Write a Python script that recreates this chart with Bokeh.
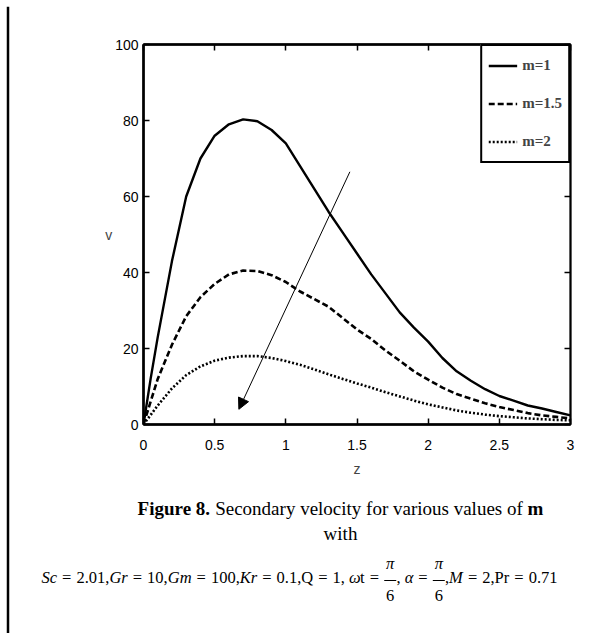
from bokeh.plotting import figure
from bokeh.models import (Range1d, FixedTicker, LinearAxis, Label, Arrow,
                          NormalHead)
from bokeh.layouts import column, row
from bokeh.embed import file_html
from bokeh.resources import INLINE

# ---------------- data ----------------
z = [0, 0.05, 0.1, 0.2, 0.3, 0.4, 0.5, 0.6, 0.7, 0.8, 0.9, 1.0, 1.1, 1.2,
     1.3, 1.4, 1.5, 1.6, 1.7, 1.8, 1.9, 2.0, 2.1, 2.2, 2.3, 2.4, 2.5, 2.6,
     2.7, 2.8, 2.9, 3.0]
v_m1 = [0, 12, 23, 43, 60, 70, 76, 79, 80.3, 79.8, 77.5, 74, 68, 62, 56,
        50.5, 45, 39.5, 34.5, 29.5, 25.5, 21.8, 17.5, 14, 11.5, 9.3, 7.5,
        6.3, 5, 4.2, 3.3, 2.4]
v_m15 = [0, 6, 12, 21, 28.5, 33.5, 37, 39.5, 40.5, 40.4, 39.3, 37.5, 35,
         33, 31, 28, 25, 22.5, 19.5, 16.8, 14, 11.8, 9.7, 8, 6.8, 5.6, 4.6,
         3.8, 3, 2.4, 2, 1.6]
v_m2 = [0, 2.5, 5, 9.5, 13, 15.3, 16.8, 17.6, 18, 18, 17.5, 16.7, 15.7,
        14.5, 13.2, 12, 10.8, 9.7, 8.5, 7.4, 6.3, 5.3, 4.5, 3.7, 3.1, 2.6,
        2.2, 1.9, 1.6, 1.4, 1.2, 1.1]
series_labels = ["m=1", "m=1.5", "m=2"]

x_ticks = [0, 0.5, 1, 1.5, 2, 2.5, 3]
x_tick_labels = ["0", "0.5", "1", "1.5", "2", "2.5", "3"]
y_ticks = [0, 20, 40, 60, 80, 100]
y_tick_labels = ["0", "20", "40", "60", "80", "100"]

# arrow annotation (data units): start -> end
arrow_start = (1.45, 66.5)
arrow_end = (0.67, 4.0)

caption_bold_1 = "Figure 8."
caption_regular = " Secondary velocity for various values of "
caption_bold_2 = "m"
caption_line2 = "with"

# ---------------- layout constants (canvas pixels) ----------------
W, H = 592, 633
TOP_H = 6          # strip holding the dashed rule
LEFT_W = 10        # strip holding the vertical rule
CHART_BOTTOM = 480
FL, FR, FT, FB = 143, 570, 44, 424  # chart frame on the canvas

TICK_FONT = "Liberation Sans"
SERIF = "Liberation Serif"


def no_align(f):
    try:
        f.frame_align = False
    except Exception:
        pass


def blank_fig(w, h, xr, yr):
    f = figure(width=w, height=h, output_backend="svg", toolbar_location=None,
               x_range=Range1d(*xr), y_range=Range1d(*yr),
               x_axis_location=None, y_axis_location=None, min_border=0)
    f.grid.visible = False
    f.outline_line_color = None
    f.background_fill_color = "white"
    f.border_fill_color = "white"
    no_align(f)
    return f


# dashed rule at top
top_fig = blank_fig(W, TOP_H, (0, W), (TOP_H, 0))
top_fig.segment(x0=[0], y0=[3.5], x1=[W], y1=[3.5], line_color="#566273",
                line_width=2, line_dash="3 2")

# vertical rule on the left
left_fig = blank_fig(LEFT_W, H - TOP_H, (0, LEFT_W), (H, TOP_H))
left_fig.segment(x0=[7.5], y0=[TOP_H], x1=[7.5], y1=[H], line_color="black",
                 line_width=2.5)

# ---------------- chart ----------------
p = figure(width=W - LEFT_W, height=CHART_BOTTOM - TOP_H,
           output_backend="svg", toolbar_location=None,
           x_range=Range1d(0, 3), y_range=Range1d(0, 100),
           min_border_left=FL - LEFT_W, min_border_right=W - FR,
           min_border_top=FT - TOP_H, min_border_bottom=CHART_BOTTOM - FB)
no_align(p)
p.background_fill_color = "white"
p.border_fill_color = "white"
p.grid.visible = False
p.outline_line_color = "black"
p.outline_line_width = 2

for ax in (p.xaxis[0], p.yaxis[0]):
    ax.axis_line_width = 2.5
    ax.axis_line_color = "black"
    ax.major_tick_in = 6
    ax.major_tick_out = 0
    ax.major_tick_line_width = 1.5
    ax.minor_tick_line_color = None
    ax.major_label_text_font = TICK_FONT
    ax.major_label_text_font_size = "14px"
    ax.major_label_text_color = "black"
    ax.axis_label_text_font = TICK_FONT
    ax.axis_label_text_font_size = "14px"
    ax.axis_label_text_font_style = "normal"

p.xaxis[0].ticker = FixedTicker(ticks=x_ticks)
p.xaxis[0].major_label_overrides = dict(zip(x_ticks, x_tick_labels))
p.xaxis[0].major_label_standoff = 15
p.xaxis[0].axis_label = "z"
p.xaxis[0].axis_label_standoff = 8

p.yaxis[0].ticker = FixedTicker(ticks=y_ticks)
p.yaxis[0].major_label_overrides = dict(zip(y_ticks, y_tick_labels))
p.yaxis[0].major_label_standoff = 5
p.yaxis[0].axis_label = "v"
p.yaxis[0].axis_label_orientation = "horizontal"
p.yaxis[0].axis_label_standoff = 0

# mirrored tick axes (top, right) without labels
top_ax = LinearAxis(ticker=FixedTicker(ticks=x_ticks), major_tick_in=6,
                    major_tick_out=0, axis_line_width=2.5,
                    minor_tick_line_color=None, major_tick_line_width=1.5,
                    major_label_standoff=0, major_label_text_color=None,
                    major_label_overrides={t: "" for t in x_ticks})
right_ax = LinearAxis(ticker=FixedTicker(ticks=y_ticks), major_tick_in=6,
                      major_tick_out=0, axis_line_width=1.5,
                      minor_tick_line_color=None, major_tick_line_width=1.5,
                      major_label_standoff=0, major_label_text_color=None,
                      major_label_overrides={t: "" for t in y_ticks})
p.add_layout(top_ax, "above")
p.add_layout(right_ax, "right")

# curves
p.line(z, v_m1, line_color="black", line_width=2.4,
       legend_label=series_labels[0])
p.line(z, v_m15, line_color="black", line_width=2.6, line_dash="6 3",
       legend_label=series_labels[1])
p.line(z, v_m2, line_color="black", line_width=2.6, line_dash="2 2",
       legend_label=series_labels[2])

lg = p.legend[0]
lg.location = "top_right"
lg.margin = 0
lg.padding = 6
lg.spacing = 11
lg.label_height = 27
lg.glyph_height = 27
lg.glyph_width = 29
lg.label_standoff = 5
lg.border_line_color = "black"
lg.border_line_alpha = 1
lg.border_line_width = 2.5
lg.background_fill_color = "white"
lg.background_fill_alpha = 1
lg.label_text_font = SERIF
lg.label_text_font_style = "bold"
lg.label_text_font_size = "15px"

# arrow
p.add_layout(Arrow(x_start=arrow_start[0], y_start=arrow_start[1],
                   x_end=arrow_end[0], y_end=arrow_end[1],
                   line_width=1, line_color="black",
                   end=NormalHead(size=11, fill_color="black",
                                  line_color="black", line_width=1)))

# ---------------- caption (canvas coordinates) ----------------
cap = blank_fig(W - LEFT_W, H - CHART_BOTTOM, (LEFT_W, W), (H, CHART_BOTTOM))

# Liberation Serif is metric-compatible with Times; widths in 1/1000 em
REG = {" ": 250, ",": 250, ".": 250, "=": 564, "0": 500, "1": 500,
       "2": 500, "6": 500, "7": 500, "8": 500, "S": 556, "Q": 722,
       "P": 556, "a": 444, "c": 444, "d": 500, "e": 444, "f": 333,
       "g": 500, "i": 278, "l": 278, "n": 500, "o": 500, "r": 333,
       "s": 389, "t": 278, "u": 500, "v": 500, "y": 500, "m": 778,
       "w": 722, "h": 500}
ITA = {"S": 500, "c": 444, "G": 722, "r": 389, "m": 722, "K": 667,
       "M": 833, "ω": 667, "α": 520}
BOLD = {"F": 611, "i": 278, "g": 500, "u": 556, "r": 444, "e": 444,
        " ": 250, "8": 500, ".": 250, "m": 833}


def width(txt, style, size):
    table = {"normal": REG, "italic": ITA, "bold": BOLD}[style]
    return sum(table.get(ch, REG.get(ch, 500)) for ch in txt) * size / 1000


def put(txt, cx, cy, size, style="normal", align="left"):
    # SVG collapses leading spaces: shift by their width instead
    lead = len(txt) - len(txt.lstrip(" "))
    cx = cx + width(" " * lead, style, size)
    cap.add_layout(Label(x=cx, y=cy, text=txt.strip(" "), text_font=SERIF,
                         text_font_size=f"{size}px", text_font_style=style,
                         text_color="black", text_align=align,
                         text_baseline="middle"))


# line 1
cap_size = 19
pieces = [(caption_bold_1, "bold"), (caption_regular, "normal"),
          (caption_bold_2, "bold")]
total = sum(width(t, s, cap_size) for t, s in pieces)
cx = 340 - total / 2
for t, s in pieces:
    put(t, cx, 508, cap_size, s)
    cx += width(t, s, cap_size)
put(caption_line2, 340, 533, cap_size, "normal", "center")

# formula line
fs = 16.5
FRAC = "FRAC"
tokens = [("Sc", "italic"), (" = ", "normal"), ("2.01", "normal"),
          (",", "normal"), ("Gr", "italic"), (" = ", "normal"),
          ("10", "normal"), (",", "normal"), ("Gm", "italic"),
          (" = ", "normal"), ("100", "normal"), (",", "normal"),
          ("Kr", "italic"), (" = ", "normal"), ("0.1", "normal"),
          (",", "normal"), ("Q", "normal"), (" = ", "normal"),
          ("1", "normal"), (", ", "normal"), ("ω", "italic"),
          ("t", "normal"), (" = ", "normal"), (FRAC, None),
          (", ", "normal"), ("α", "italic"), (" = ", "normal"),
          (FRAC, None), (",", "normal"), ("M", "italic"),
          (" = ", "normal"), ("2", "normal"), (",", "normal"),
          ("Pr", "normal"), (" = ", "normal"), ("0.71", "normal")]
frac_w = 0.75 * fs
f_left, f_right = 41, 557
nat = sum(frac_w if t == FRAC else width(t, s, fs) for t, s in tokens)
eq_n = sum(1 for t, s in tokens if t.strip() == "=")
extra = max(0.0, (f_right - f_left - nat) / (2 * eq_n))
cx = f_left
cy = 577
for t, s in tokens:
    if t == FRAC:
        mid = cx + frac_w / 2
        put("π", mid, cy - 14, fs, "italic", "center")
        put("6", mid, cy + 18, fs, "normal", "center")
        cap.segment(x0=[mid - 6], y0=[cy + 3], x1=[mid + 6], y1=[cy + 3],
                    line_color="black", line_width=1)
        cx += frac_w
    elif t.strip() == "=":
        cx += extra
        put(t, cx, cy, fs, s)
        cx += width(t, s, fs) + extra
    else:
        put(t, cx, cy, fs, s)
        cx += width(t, s, fs)

layout = column(top_fig, row(left_fig, column(p, cap, spacing=0), spacing=0),
                spacing=0)
open("out.html", "w").write(file_html(layout, INLINE))
